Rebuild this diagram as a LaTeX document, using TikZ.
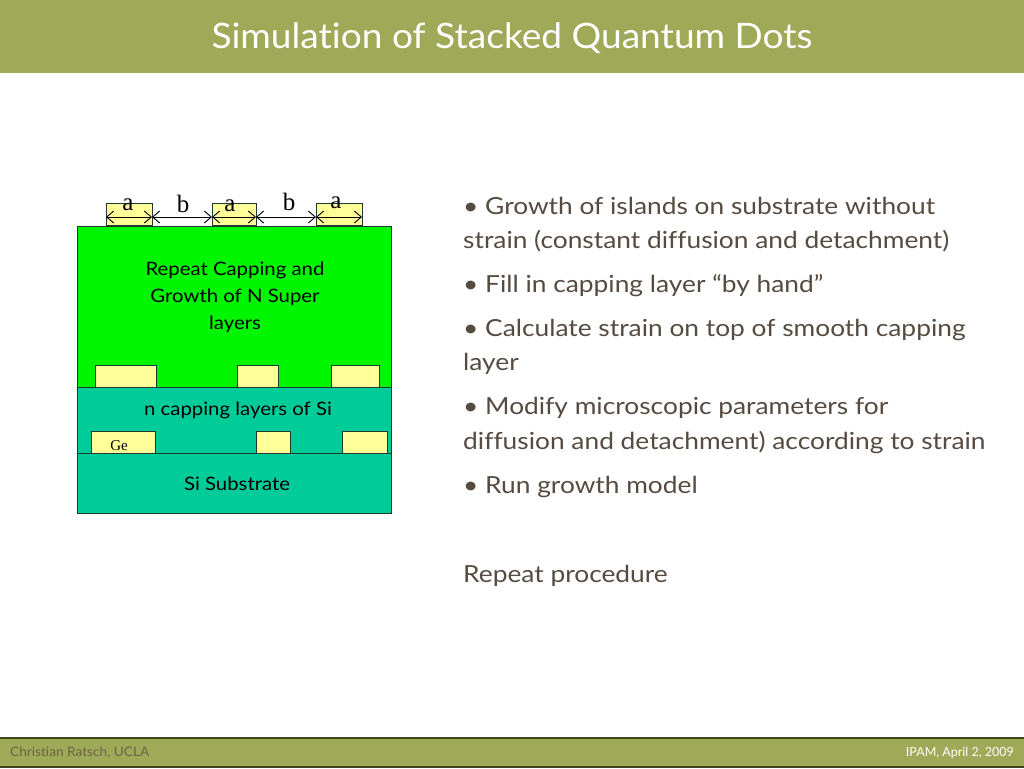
\documentclass[tikz,border=0pt]{standalone}
\usepackage{fontspec}
\setmainfont[Ligatures=NoCommon]{Lato}
\newfontfamily\serifr{Liberation Serif}
\usetikzlibrary{arrows.meta}
\definecolor{barcol}{HTML}{9EAA58}
\definecolor{bardark}{HTML}{3E4419}
\definecolor{txtcol}{HTML}{564B40}
\definecolor{greenl}{HTML}{00F500}
\definecolor{teal}{HTML}{00CC99}
\definecolor{isl}{HTML}{FFFF99}
\definecolor{edgec}{HTML}{1E3A2E}
\newcommand{\stretchx}[1]{\addfontfeature{FakeStretch=#1}}
\tikzset{
  layer/.style={draw=edgec, line width=0.9pt},
  island/.style={draw=edgec, line width=0.9pt, fill=isl},
  bul/.style={anchor=base west, inner sep=0pt, text=txtcol, font=\fontsize{23.5}{28}\selectfont\stretchx{1.12}},
  lab/.style={inner sep=0pt, text=black, font=\fontsize{18.5}{27}\selectfont\stretchx{1.1}, align=center},
  ab/.style={inner sep=0pt, font=\serifr\fontsize{25}{25}\selectfont},
  dim/.style={<->, >={Straight Barb[length=7pt,width=12pt,line width=0.9pt]}, line width=0.8pt}
}
\begin{document}
\begin{tikzpicture}[x=1pt,y=-1pt]
\useasboundingbox (0,0) rectangle (1024,768);
\fill[white] (0,0) rectangle (1024,768);
% title bar
\fill[barcol] (0,0) rectangle (1024,73);
\node[text=white, font=\fontsize{35}{38}\selectfont\stretchx{1.06}, inner sep=0pt] (title) at (512,38) {Simulation of Stacked Quantum Dots};
% footer bar
\draw[fill=barcol, draw=bardark, line width=1.5pt] (-2,738) rectangle (1026,767);
\node[anchor=base west, inner sep=0pt, text=txtcol!75!barcol, font=\fontsize{13}{13}\selectfont\stretchx{1.05}] (fl) at (10,756) {Christian Ratsch, UCLA};
\node[anchor=base east, inner sep=0pt, text=white, font=\fontsize{12.5}{13}\selectfont] (fr) at (1014,756) {IPAM, April 2, 2009};
% layers
\draw[layer, fill=greenl] (77,226) rectangle (391,387);
\draw[layer, fill=teal] (77,387) rectangle (391,453);
\draw[layer, fill=teal] (77,453) rectangle (391,513);
% islands upper
\draw[island] (95,365) rectangle (156,387);
\draw[island] (237,365) rectangle (278,387);
\draw[island] (331,365) rectangle (379,387);
% islands lower
\draw[island] (91,431) rectangle (155,453);
\draw[island] (256,431) rectangle (290,453);
\draw[island] (342,431) rectangle (387,453);
% top islands
\draw[island] (106,203) rectangle (152,225);
\draw[island] (212,203) rectangle (256,225);
\draw[island] (316,203) rectangle (362,225);
% dimension arrows
\coordinate (d0) at (106,217);
\coordinate (d1) at (152,217);
\coordinate (d2) at (212,217);
\coordinate (d3) at (256,217);
\coordinate (d4) at (316,217);
\coordinate (d5) at (362,217);
\draw[dim] (d0) -- (d1);
\draw[dim] (d1) -- (d2);
\draw[dim] (d2) -- (d3);
\draw[dim] (d3) -- (d4);
\draw[dim] (d4) -- (d5);
\node[ab] (a1) at (128,205) {a};
\node[ab] (b1) at (183,204) {b};
\node[ab] (a2) at (230,206) {a};
\node[ab] (b2) at (289,202) {b};
\node[ab] (a3) at (336,203) {a};
% labels
\node[lab] (rep) at (235,297) {Repeat Capping and\\Growth of N Super\\layers};
\node[lab] (cap) at (238,410) {n capping layers of Si};
\node[lab] (sub) at (237,484) {Si Substrate};
\node[inner sep=0pt, font=\serifr\fontsize{15}{15}\selectfont] (ge) at (119,446) {Ge};
% bullets
\node[bul] (l1) at (463,214) {• Growth of islands on substrate without};
\node[bul] (l2) at (463,248) {strain (constant diffusion and detachment)};
\node[bul] (l3) at (463,292) {• Fill in capping layer “by hand”};
\node[bul] (l4) at (463,336) {• Calculate strain on top of smooth capping};
\node[bul] (l5) at (463,370) {layer};
\node[bul] (l6) at (463,414) {• Modify microscopic parameters for};
\node[bul] (l7) at (463,449) {diffusion and detachment) according to strain};
\node[bul] (l8) at (463,493) {• Run growth model};
\node[bul] (l9) at (463,582) {Repeat procedure};
\end{tikzpicture}
\end{document}
